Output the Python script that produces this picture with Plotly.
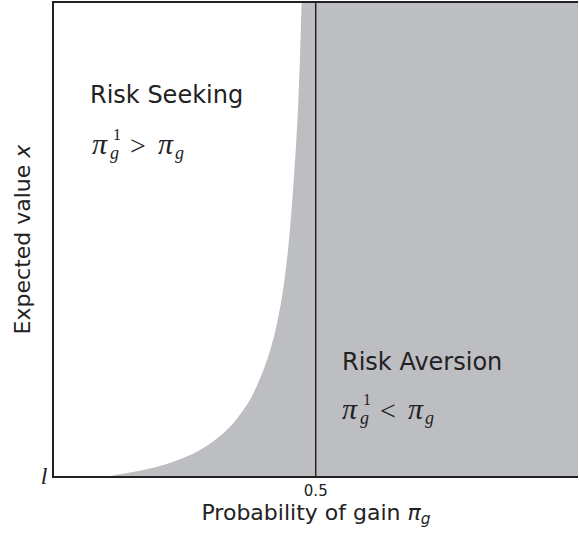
import plotly.graph_objects as go

# Boundary between risk seeking (left, white) and risk aversion (right, gray)
boundary_pg = [0.107, 0.202, 0.279, 0.330, 0.367, 0.388, 0.413, 0.433,
               0.447, 0.458, 0.466, 0.473]
boundary_x = [0.0, 0.021, 0.055, 0.097, 0.148, 0.192, 0.266, 0.362,
              0.478, 0.626, 0.774, 1.0]

x_tick_vals = [0.5, 1.0]
x_tick_text = ["0.5", "1"]
y_tick_vals = [0.0]
y_tick_text = ["<i>l</i>"]

W, H = 579, 533
L, R, T, B = 54, 578, 3, 476

def fx(px):
    return (px - L) / (R - L)

def fy(py):
    return (B - py) / (B - T)

GRAY = "#bdbec2"
fig = go.Figure()

# white (risk seeking) region left of the boundary, over a gray plot background
fig.add_trace(go.Scatter(x=boundary_pg, y=boundary_x, fill="tozerox", mode="lines",
                         line=dict(width=0, shape="spline", smoothing=1.0),
                         fillcolor="white", hoverinfo="skip", showlegend=False))
fig.add_trace(go.Scatter(x=[0.5, 0.5], y=[0, 1], mode="lines",
                         line=dict(color="#111111", width=1.3),
                         hoverinfo="skip", showlegend=False))

ann = []
SANS = "DejaVu Sans"
SERIF = "Liberation Serif"
TC = "#222222"

def txt(s, px, py, size, family=SANS, italic=False):
    if italic:
        s = "<i>" + s + "</i>"
    ann.append(dict(x=fx(px), y=fy(py), xref="x", yref="y", text=s,
                    showarrow=False, xanchor="left", yanchor="middle",
                    font=dict(family=family, size=size, color=TC)))

def mathline(px, py, rel):
    # pi_g^1 rel pi_g
    txt("π", px - 2, py - 3, 30, SERIF, True)
    txt("1", px + 19, py - 12, 16, SERIF)
    txt("g", px + 16, py + 7, 18, SERIF, True)
    txt(rel, px + 36, py - 1, 28, SERIF)
    txt("π", px + 64, py - 3, 30, SERIF, True)
    txt("g", px + 81, py + 7, 18, SERIF, True)

txt("Risk Seeking", 88, 95, 24)
mathline(92, 146, "&gt;")
txt("Risk Aversion", 340, 362, 24)
mathline(342, 411, "&lt;")

fig.update_layout(
    width=W, height=H,
    margin=dict(l=L, r=W - R, t=T, b=H - B),
    paper_bgcolor="white", plot_bgcolor=GRAY,
    annotations=ann,
    xaxis=dict(range=[0, 1.001], tickvals=x_tick_vals, ticktext=x_tick_text,
               showgrid=False, zeroline=False, showline=True,
               linecolor="#222", linewidth=1.5, mirror=True,
               ticks="inside", ticklen=4, tickcolor="#222",
               tickfont=dict(family=SANS, size=15, color=TC),
               title=dict(text="Probability of gain <i>π<sub>g</sub></i>",
                          font=dict(family=SANS, size=22, color=TC),
                          standoff=4)),
    yaxis=dict(range=[0, 1], tickvals=y_tick_vals, ticktext=y_tick_text,
               showgrid=False, zeroline=False, showline=True,
               linecolor="#222", linewidth=1.5,
               ticks="", tickfont=dict(family=SERIF, size=24, color=TC),
               title=dict(text="Expected value <i>x</i>",
                          font=dict(family=SANS, size=22, color=TC),
                          standoff=4)),
)

fig.write_html("out.html", config={"displayModeBar": False},
               post_script="document.body.style.margin='0';document.body.style.overflow='hidden';")
